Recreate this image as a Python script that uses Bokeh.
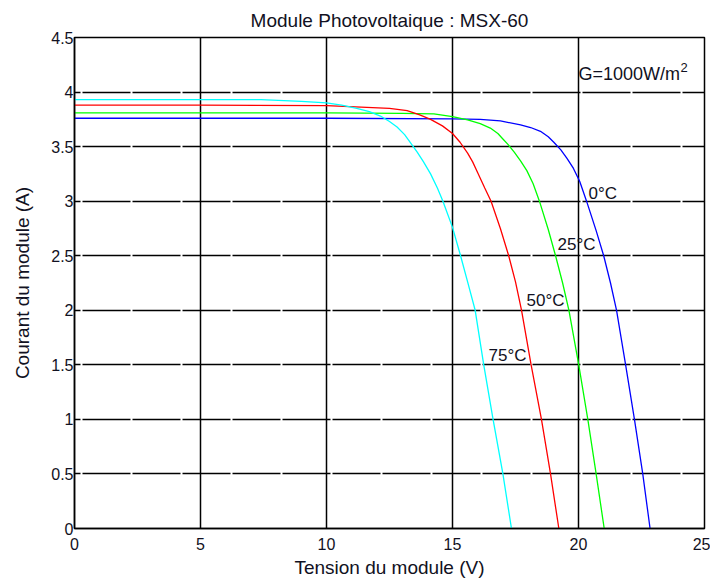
from bokeh.plotting import figure
from bokeh.models import FixedTicker, Range1d, Label
from bokeh.embed import file_html
from bokeh.resources import INLINE

# ---- data ----
x_ticks = [0, 5, 10, 15, 20, 25]
x_tick_labels = ["0", "5", "10", "15", "20", "25"]
y_ticks = [0, 0.5, 1, 1.5, 2, 2.5, 3, 3.5, 4, 4.5]
y_tick_labels = ["0", "0.5", "1", "1.5", "2", "2.5", "3", "3.5", "4", "4.5"]

# 0 degC (blue)
v_0 = [0, 10, 15, 16.1, 16.9, 17.7, 18.1, 18.49, 18.8, 19.02, 19.3, 19.55, 19.8, 20.05, 20.32,
       20.7, 21.0, 21.27, 21.51, 21.87, 22.22, 22.55, 22.84]
i_0 = [3.76, 3.76, 3.755, 3.75, 3.735, 3.70, 3.675, 3.64, 3.59, 3.54, 3.47, 3.39, 3.30, 3.18, 3.0,
       2.73, 2.5, 2.25, 2.0, 1.5, 1.0, 0.5, 0.0]
# 25 degC (green)
v_25 = [0, 10, 13, 14.26, 15.0, 15.6, 16.1, 16.5, 16.8, 17.0, 17.2, 17.45, 17.7, 17.95, 18.2, 18.45,
        18.8, 19.09, 19.37, 19.62, 20.01, 20.37, 20.7, 21.02]
i_25 = [3.81, 3.81, 3.805, 3.80, 3.775, 3.745, 3.71, 3.67, 3.62, 3.57, 3.52, 3.45, 3.37, 3.28, 3.16, 3.0,
        2.74, 2.5, 2.25, 2.0, 1.5, 1.0, 0.5, 0.0]
# 50 degC (red)
v_50 = [0, 5, 10, 11.6, 12.5, 13.2, 13.7, 14.13, 14.6, 15.0, 15.3, 15.6, 15.8, 16.0, 16.28, 16.53,
        16.9, 17.23, 17.5, 17.74, 18.12, 18.53, 18.89, 19.22]
i_50 = [3.88, 3.88, 3.875, 3.86, 3.85, 3.83, 3.79, 3.75, 3.69, 3.62, 3.54, 3.44, 3.36, 3.26, 3.12, 3.0,
        2.75, 2.5, 2.26, 2.0, 1.5, 1.0, 0.5, 0.0]
# 75 degC (cyan)
v_75 = [0, 5, 7.4, 9, 10, 10.6, 11.2, 11.7, 12.14, 12.5, 12.8, 13.1, 13.35, 13.6, 13.85, 14.13, 14.4,
        14.62, 15.0, 15.32, 15.6, 15.9, 16.24, 16.61, 17.0, 17.34]
i_75 = [3.93, 3.93, 3.93, 3.915, 3.90, 3.88, 3.85, 3.82, 3.78, 3.73, 3.68, 3.61, 3.53, 3.45, 3.36, 3.25, 3.12,
        3.0, 2.76, 2.5, 2.26, 2.0, 1.5, 1.0, 0.5, 0.0]

series = [
    (v_0, i_0, "#0000ff"),
    (v_25, i_25, "#00ff00"),
    (v_50, i_50, "#ff0000"),
    (v_75, i_75, "#00ffff"),
]

curve_labels = ["0°C", "25°C", "50°C", "75°C"]
curve_label_pos = [(20.40, 3.07), (19.17, 2.60), (17.94, 2.09), (16.43, 1.59)]

FONT = "Liberation Sans"
TXT = "#111122"

p = figure(width=710, height=580, output_backend="svg", toolbar_location=None,
           x_range=Range1d(0, 25), y_range=Range1d(0, 4.5),
           min_border_left=74, min_border_right=6, min_border_top=37, min_border_bottom=52,
           title="Module Photovoltaique : MSX-60")

p.title.align = "center"
p.title.text_font = FONT
p.title.text_font_size = "19px"
p.title.text_font_style = "normal"
p.title.text_color = TXT
p.title.standoff = 13

for v, i, c in series:
    p.line(v, i, line_color=c, line_width=1.3)

# axes
p.xaxis.ticker = FixedTicker(ticks=x_ticks)
p.yaxis.ticker = FixedTicker(ticks=y_ticks)
p.xaxis.major_label_overrides = {t: l for t, l in zip(x_ticks, x_tick_labels)}
p.yaxis.major_label_overrides = {t: l for t, l in zip(y_ticks, y_tick_labels)}
for ax in (p.xaxis, p.yaxis):
    ax.major_tick_in = 0
    ax.major_tick_out = 0
    ax.minor_tick_line_color = None
    ax.axis_line_color = "black"
    ax.axis_line_width = 1.5
    ax.major_label_text_font = FONT
    ax.major_label_text_font_size = "16px"
    ax.major_label_text_color = TXT
    ax.axis_label_text_font = FONT
    ax.axis_label_text_font_size = "19px"
    ax.axis_label_text_font_style = "normal"
    ax.axis_label_text_color = TXT

p.xaxis.axis_label = "Tension du module (V)"
p.yaxis.axis_label = "Courant du module (A)"
p.xaxis.major_label_standoff = 9
p.xaxis.axis_label_standoff = 4
p.yaxis.major_label_standoff = 1
p.yaxis.axis_label_standoff = 15

p.outline_line_color = "black"
p.outline_line_width = 1.5
p.outline_line_alpha = 1

p.xgrid.grid_line_color = "black"
p.xgrid.grid_line_width = 1.5
p.xgrid.grid_line_alpha = 1
p.ygrid.grid_line_color = "black"
p.ygrid.grid_line_width = 1.5
p.ygrid.grid_line_alpha = 1
p.ygrid.grid_line_dash = "48 2"
p.ygrid.grid_line_dash_offset = 42

for txt, (lx, ly) in zip(curve_labels, curve_label_pos):
    p.add_layout(Label(x=lx, y=ly, text=txt, text_font=FONT, text_font_size="17px",
                       text_color=TXT, text_baseline="middle", text_align="left"))

p.add_layout(Label(x=20.0, y=4.17, text="G=1000W/m", text_font=FONT, text_font_size="18px",
                   text_color=TXT, text_baseline="middle", text_align="left"))
p.add_layout(Label(x=20.0, y=4.17, x_offset=102, y_offset=6, text="2", text_font=FONT,
                   text_font_size="13px", text_color=TXT, text_baseline="middle", text_align="left"))

open("out.html", "w").write(file_html(p, INLINE))
